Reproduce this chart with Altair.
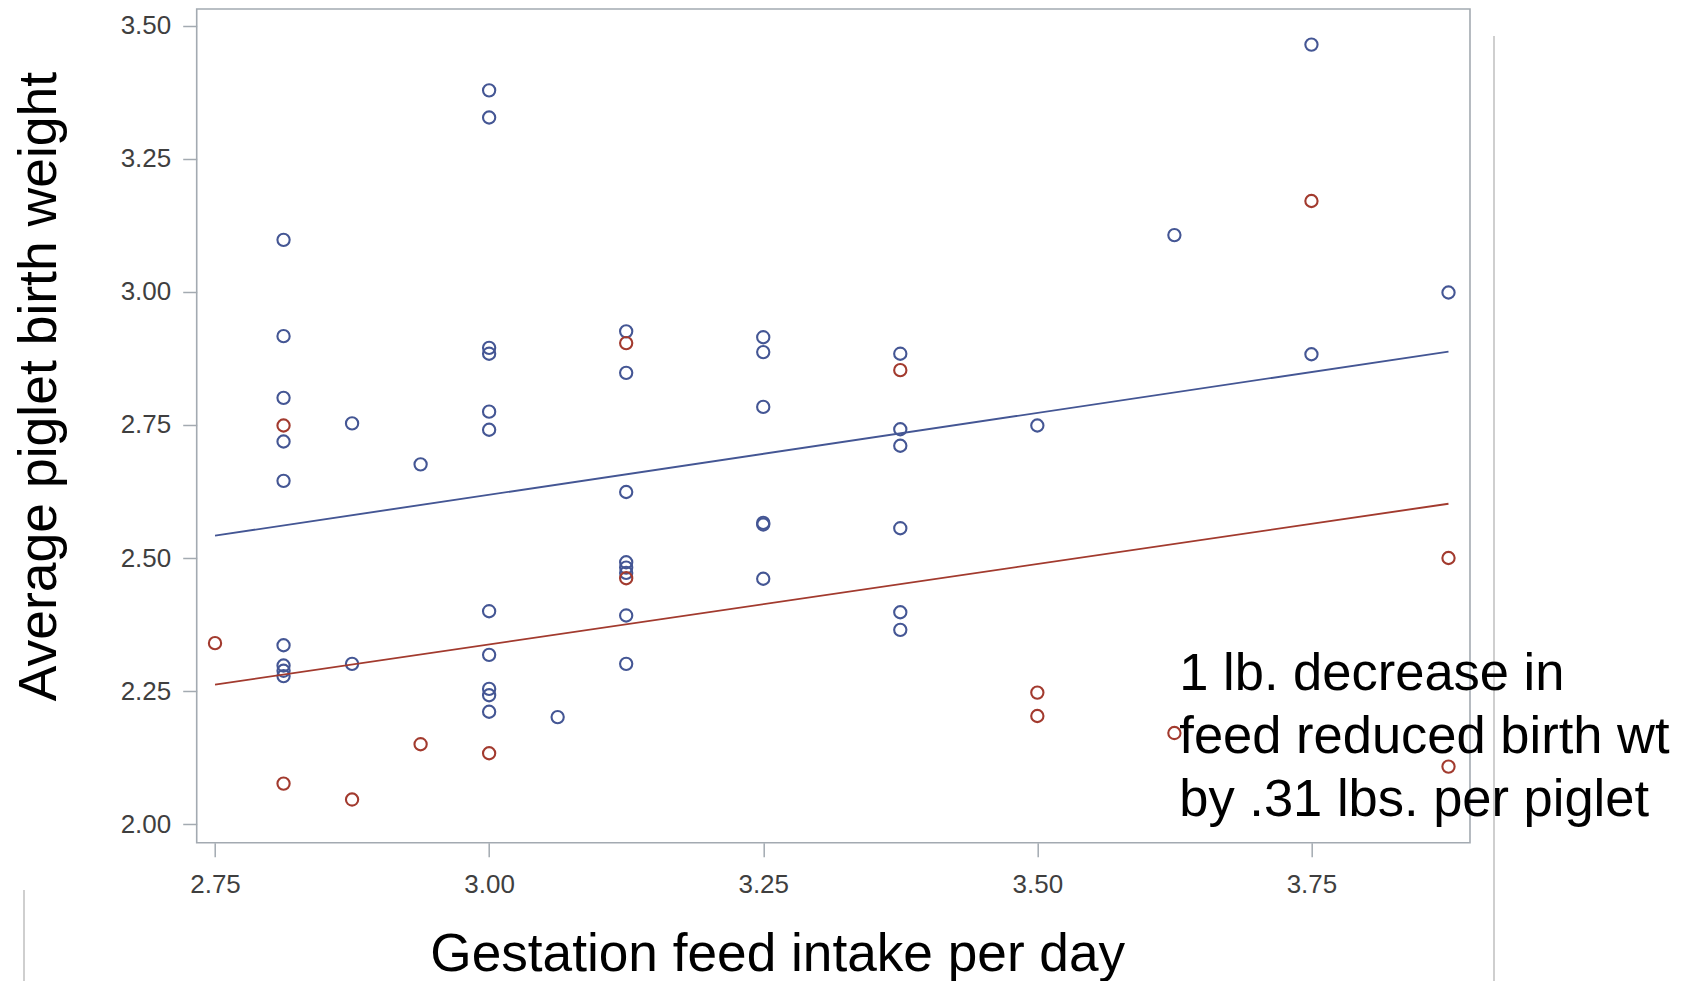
import altair as alt
import pandas as pd

# ---- data ----
blue_x = [2.8125, 2.8125, 2.8125, 2.8125, 2.8125, 2.8125, 2.8125, 2.8125, 2.8125,
          2.875, 2.875,
          2.9375,
          3.0, 3.0, 3.0, 3.0, 3.0, 3.0, 3.0, 3.0, 3.0, 3.0, 3.0,
          3.0625,
          3.125, 3.125, 3.125, 3.125, 3.125, 3.125, 3.125, 3.125,
          3.25, 3.25, 3.25, 3.25, 3.25, 3.25,
          3.375, 3.375, 3.375, 3.375, 3.375, 3.375,
          3.5,
          3.625,
          3.75, 3.75,
          3.875]
blue_y = [3.098, 2.917, 2.801, 2.719, 2.645, 2.336, 2.298, 2.288, 2.278,
          2.753, 2.301,
          2.676,
          3.379, 3.328, 2.895, 2.884, 2.775, 2.741, 2.400, 2.318, 2.254, 2.242, 2.211,
          2.201,
          2.926, 2.848, 2.624, 2.492, 2.482, 2.472, 2.392, 2.301,
          2.915, 2.887, 2.784, 2.566, 2.563, 2.461,
          2.884, 2.742, 2.711, 2.556, 2.398, 2.365,
          2.749,
          3.107,
          3.465, 2.883,
          2.999]

red_x = [2.75, 2.8125, 2.8125, 2.875, 2.9375, 3.0, 3.125, 3.125, 3.375,
         3.5, 3.5, 3.625, 3.75, 3.875, 3.875]
red_y = [2.340, 2.749, 2.076, 2.046, 2.150, 2.133, 2.904, 2.462, 2.853,
         2.247, 2.203, 2.171, 3.171, 2.500, 2.108]

fit_x = [2.75, 3.875]
blue_fit_y = [2.542, 2.888]
red_fit_y = [2.262, 2.602]

x_ticks = [2.75, 3.00, 3.25, 3.50, 3.75]
y_ticks = [2.00, 2.25, 2.50, 2.75, 3.00, 3.25, 3.50]

note_lines = ["1 lb. decrease in", "feed reduced birth wt", "by .31 lbs. per piglet"]
note_x = [3.6295]
note_y = [2.2525]

x_title = "Gestation feed intake per day"
y_title = "Average piglet birth weight"

BLUE = "#445694"
RED = "#A23A2E"
FRAME = "#a3aab1"

# ---- tables ----
pts = pd.DataFrame({
    "feed": blue_x + red_x,
    "wt": blue_y + red_y,
    "grp": ["A"] * len(blue_x) + ["B"] * len(red_x),
})
fits = pd.DataFrame({
    "feed": fit_x + fit_x,
    "wt": blue_fit_y + red_fit_y,
    "grp": ["A"] * len(fit_x) + ["B"] * len(fit_x),
})
note = pd.DataFrame({"feed": note_x, "wt": note_y, "txt": [note_lines]})

W, H = 1273.3, 833.7
xscale = alt.Scale(domain=[2.7333, 3.8946], nice=False, zero=False)
yscale = alt.Scale(domain=[1.9649, 3.5319], nice=False, zero=False)
cscale = alt.Scale(domain=["A", "B"], range=[BLUE, RED])

xaxis = alt.Axis(values=x_ticks, format=".2f", title=x_title, grid=False, domain=False,
                 tickSize=14, tickColor=FRAME, tickWidth=1.5,
                 labelFont="Liberation Sans", labelFontSize=26, labelColor="#3f3f3f",
                 labelBaseline="alphabetic", labelPadding=36,
                 titleFont="Liberation Sans", titleFontSize=53.2, titleFontWeight="normal",
                 titleColor="#000000", titleX=580.5, titleY=128,
                 titleAlign="center", titleBaseline="alphabetic", titleAnchor="middle")
yaxis = alt.Axis(values=y_ticks, format=".2f", title=y_title, grid=False, domain=False,
                 tickSize=14, tickColor=FRAME, tickWidth=1.5,
                 labelFont="Liberation Sans", labelFontSize=26, labelColor="#3f3f3f",
                 labelPadding=12,
                 titleFont="Liberation Sans", titleFontSize=53.5, titleFontWeight="normal",
                 titleColor="#000000", titleAngle=270, titleX=-141.7, titleY=377,
                 titleAlign="center", titleBaseline="alphabetic")

points = alt.Chart(pts).mark_point(shape="circle", filled=False, size=150, strokeWidth=2.1, opacity=1).encode(
    x=alt.X("feed:Q", scale=xscale, axis=xaxis),
    y=alt.Y("wt:Q", scale=yscale, axis=yaxis),
    color=alt.Color("grp:N", scale=cscale, legend=None),
)

lines = alt.Chart(fits).mark_line(strokeWidth=1.9).encode(
    x=alt.X("feed:Q", scale=xscale),
    y=alt.Y("wt:Q", scale=yscale),
    color=alt.Color("grp:N", scale=cscale, legend=None),
    detail="grp:N",
)

text = alt.Chart(note).mark_text(align="left", baseline="alphabetic", font="Liberation Sans",
                                 fontSize=52.5, lineHeight=63.3, color="#000000").encode(
    x=alt.X("feed:Q", scale=xscale),
    y=alt.Y("wt:Q", scale=yscale),
    text="txt",
)

one = pd.DataFrame({"d": [0]})
rule_right = alt.Chart(one).mark_rule(color="#cfcfcf", strokeWidth=2).encode(
    x=alt.value(1297.3), y=alt.value(27), y2=alt.value(975))
rule_left = alt.Chart(one).mark_rule(color="#cfcfcf", strokeWidth=2).encode(
    x=alt.value(-172.7), y=alt.value(881), y2=alt.value(975))

chart = alt.layer(rule_right, rule_left, points, lines, text).properties(
    width=W, height=H,
    autosize=alt.AutoSizeParams(type="none"),
    padding={"left": 188.7, "top": 1, "right": 205, "bottom": 140},
    background="white",
).configure_view(stroke=FRAME, strokeWidth=1.6)

chart.save("out.html", embed_options={"renderer": "svg", "actions": False})
